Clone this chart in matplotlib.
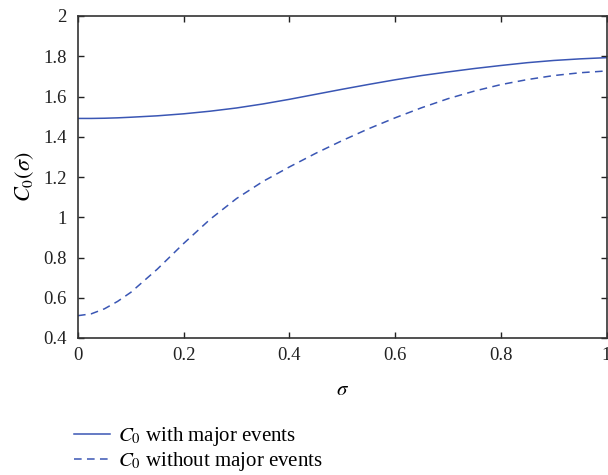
import matplotlib
matplotlib.use("Agg")
import matplotlib.pyplot as plt

plt.rcParams['font.family'] = ['Liberation Serif', 'DejaVu Serif']
plt.rcParams['mathtext.fontset'] = 'stix'

sigma = [0.000, 0.025, 0.050, 0.075, 0.10, 0.15, 0.20, 0.25, 0.30, 0.35, 0.40, 0.45, 0.50,
         0.55, 0.60, 0.65, 0.70, 0.75, 0.80, 0.85, 0.90, 0.95, 1.00]
c0_with = [1.491, 1.491, 1.492, 1.494, 1.497, 1.504, 1.514, 1.527, 1.543, 1.563, 1.586, 1.611, 1.636,
           1.660, 1.683, 1.704, 1.722, 1.739, 1.754, 1.768, 1.779, 1.787, 1.793]
c0_without = [0.511, 0.520, 0.545, 0.582, 0.627, 0.742, 0.870, 0.990, 1.093, 1.178, 1.250, 1.318, 1.381,
              1.440, 1.494, 1.544, 1.589, 1.627, 1.659, 1.684, 1.704, 1.718, 1.727]
labels = [r'$C_0$ with major events', r'$C_0$ without major events']
xticks = [0, 0.2, 0.4, 0.6, 0.8, 1]
xticklabels = ['0', '0.2', '0.4', '0.6', '0.8', '1']
yticks = [0.4, 0.6, 0.8, 1.0, 1.2, 1.4, 1.6, 1.8, 2.0]
yticklabels = ['0.4', '0.6', '0.8', '1', '1.2', '1.4', '1.6', '1.8', '2']

color = '#3a56b4'
fig = plt.figure(figsize=(6.08, 4.75), dpi=100)
ax = fig.add_axes([78/608, 1 - 338/475, (606.5-78)/608, (338-16)/475])

ax.plot(sigma, c0_with, color=color, lw=1.1, ls='-', label=labels[0])
ax.plot(sigma, c0_without, color=color, lw=1.1, ls=(0, (5, 3.5)), label=labels[1])

ax.set_xlim(0, 1)
ax.set_ylim(0.4, 2)
ax.set_xticks(xticks)
ax.set_xticklabels(xticklabels)
ax.set_yticks(yticks)
ax.set_yticklabels(yticklabels)
ax.tick_params(direction='in', length=4, width=1, top=True, right=True,
               labelsize=13.5, colors='#222222')
ax.tick_params(axis='x', pad=6.5)
ax.tick_params(axis='y', pad=8)
for s in ax.spines.values():
    s.set_color('#333333')
    s.set_linewidth(1.2)

ax.set_xlabel(r'$\sigma$', fontsize=15, labelpad=12)
ax.set_ylabel(r'$C_0(\sigma)$', fontsize=16, labelpad=5)

fig.legend(loc='upper left', bbox_to_anchor=(66/608, 1 - 417/475),
           frameon=False, fontsize=15, handlelength=1.7, handletextpad=0.4,
           labelspacing=0.1, borderaxespad=0)

fig.savefig('out.png', dpi=100)
